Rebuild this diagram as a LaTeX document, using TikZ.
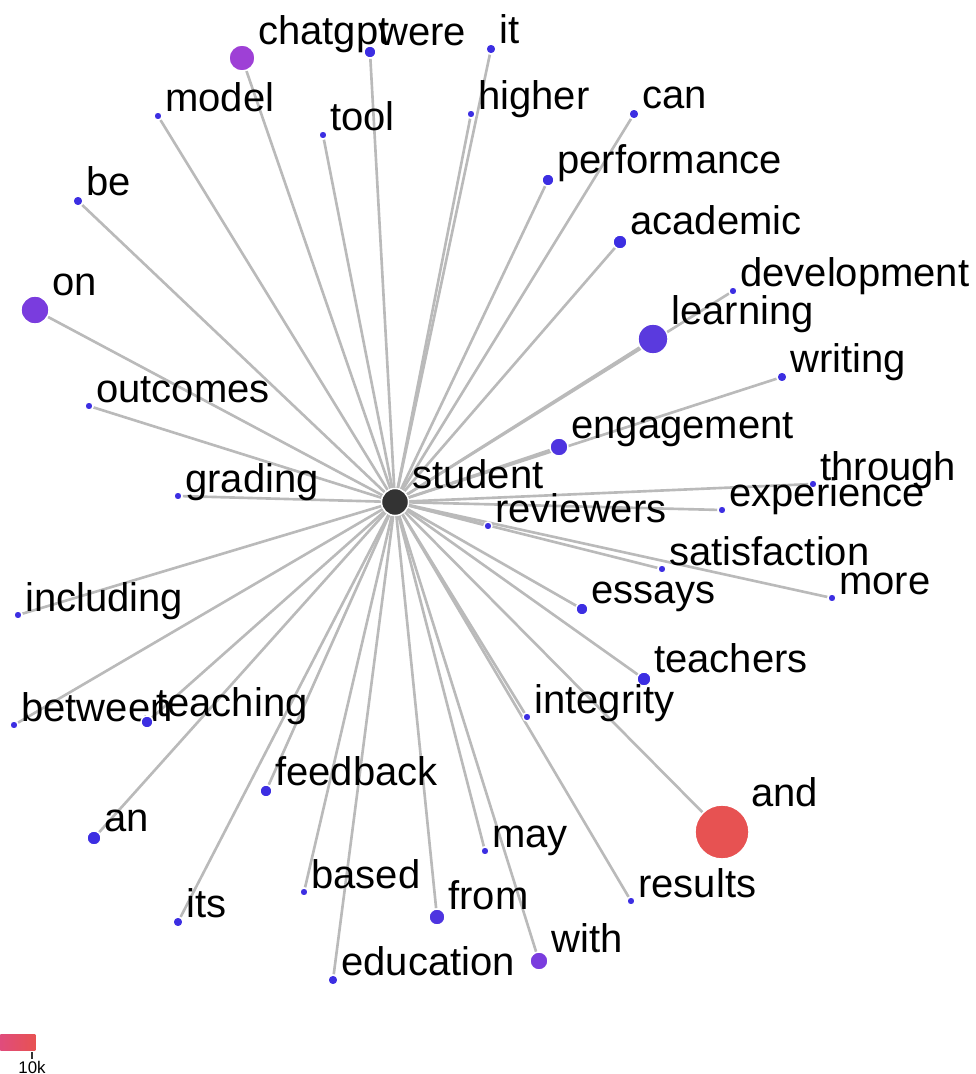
\documentclass[tikz,border=0pt]{standalone}
\usepackage{fontspec}
\setmainfont{Liberation Sans}
\usepackage{tikz}
\usetikzlibrary{positioning}
\pgfdeclarelayer{background}
\pgfsetlayers{background,main}
\definecolor{dotblue}{RGB}{60,46,226}
\definecolor{dotblueb}{RGB}{78,52,224}
\definecolor{dotlearn}{RGB}{90,58,222}
\definecolor{dotviolet}{RGB}{122,60,222}
\definecolor{dotchat}{RGB}{158,64,214}
\definecolor{dotred}{RGB}{231,82,82}
\definecolor{dotpink}{RGB}{224,76,124}
\definecolor{hubgray}{RGB}{51,51,51}
\definecolor{linkgray}{RGB}{186,186,186}
\tikzstyle{word} = [circle, draw=white, line width=0.8pt, inner sep=0pt, fill=dotblue]
\tikzstyle{hub} = [word, fill=hubgray, minimum size=0.54cm]
\tikzstyle{lbl} = [anchor=base west, inner sep=0pt, font=\fontsize{22.76}{27}\selectfont]
\tikzstyle{link} = [draw=linkgray, line width=1.5pt]
\tikzstyle{s4} = [minimum size=0.16cm]
\tikzstyle{s5} = [minimum size=0.2cm]
\tikzstyle{s6} = [minimum size=0.24cm]
\tikzstyle{s7} = [minimum size=0.28cm]
\tikzstyle{s8} = [minimum size=0.32cm]
\tikzstyle{s9} = [minimum size=0.36cm]
\tikzstyle{s13} = [minimum size=0.52cm]
\tikzstyle{s14} = [minimum size=0.56cm]
\tikzstyle{s15} = [minimum size=0.6cm]
\tikzstyle{s27} = [minimum size=1.08cm]

\begin{document}
\begin{tikzpicture}[x=0.02cm, y=-0.02cm]
\useasboundingbox (0,0) rectangle (975,1074);
% centre word
\node (student) [hub] at (395,502) {};
\node (studentT) [lbl] at ([shift={(17,-14)}]student.center) {student};
%-----------------------------------------------
% upper half
\node (chatgpt) [word, s13, fill=dotchat] at (242,58) {};
\node (chatgptT) [lbl] at ([shift={(16,-13)}]chatgpt.center) {chatgpt};
\node (were) [word, s6] at (370,52) {};
\node (wereT) [lbl] at ([shift={(9,-6)}]were.center) {were};
\node (it) [word, s5] at (491,49) {};
\node (itT) [lbl] at ([shift={(8,-5)}]it.center) {it};
\node (model) [word, s4] at (158,116) {};
\node (modelT) [lbl] at ([shift={(7,-4)}]model.center) {model};
\node (tool) [word, s4] at (323,135) {};
\node (toolT) [lbl] at ([shift={(7,-4)}]tool.center) {tool};
\node (higher) [word, s4] at (471,114) {};
\node (higherT) [lbl] at ([shift={(7,-4)}]higher.center) {higher};
\node (can) [word, s5] at (634,114) {};
\node (canT) [lbl] at ([shift={(8,-5)}]can.center) {can};
\node (be) [word, s5] at (78,201) {};
\node (beT) [lbl] at ([shift={(8,-5)}]be.center) {be};
\node (performance) [word, s6] at (548,180) {};
\node (performanceT) [lbl] at ([shift={(9,-6)}]performance.center) {performance};
\node (academic) [word, s7] at (620,242) {};
\node (academicT) [lbl] at ([shift={(10,-7)}]academic.center) {academic};
\node (on) [word, s14, fill=dotviolet] at (35,310) {};
\node (onT) [lbl] at ([shift={(17,-14)}]on.center) {on};
\node (development) [word, s4] at (733,291) {};
\node (developmentT) [lbl] at ([shift={(7,-4)}]development.center) {development};
\node (learning) [word, s15, fill=dotlearn] at (653,339) {};
\node (learningT) [lbl] at ([shift={(18,-15)}]learning.center) {learning};
\node (writing) [word, s5] at (782,377) {};
\node (writingT) [lbl] at ([shift={(8,-5)}]writing.center) {writing};
\node (outcomes) [word, s4] at (89,406) {};
\node (outcomesT) [lbl] at ([shift={(7,-4)}]outcomes.center) {outcomes};
\node (engagement) [word, s9, fill=dotblueb] at (559,447) {};
\node (engagementT) [lbl] at ([shift={(12,-9)}]engagement.center) {engagement};
\node (grading) [word, s4] at (178,496) {};
\node (gradingT) [lbl] at ([shift={(7,-4)}]grading.center) {grading};
\node (through) [word, s4] at (813,484) {};
\node (throughT) [lbl] at ([shift={(7,-4)}]through.center) {through};
\node (experience) [word, s4] at (722,510) {};
\node (experienceT) [lbl] at ([shift={(7,-4)}]experience.center) {experience};
\node (reviewers) [word, s4] at (488,526) {};
\node (reviewersT) [lbl] at ([shift={(7,-4)}]reviewers.center) {reviewers};
%-----------------------------------------------
% lower half
\node (satisfaction) [word, s4] at (662,569) {};
\node (satisfactionT) [lbl] at ([shift={(7,-4)}]satisfaction.center) {satisfaction};
\node (more) [word, s4] at (832,598) {};
\node (moreT) [lbl] at ([shift={(7,-4)}]more.center) {more};
\node (essays) [word, s6] at (582,609) {};
\node (essaysT) [lbl] at ([shift={(9,-6)}]essays.center) {essays};
\node (including) [word, s4] at (18,615) {};
\node (includingT) [lbl] at ([shift={(7,-4)}]including.center) {including};
\node (teachers) [word, s7] at (644,679) {};
\node (teachersT) [lbl] at ([shift={(10,-7)}]teachers.center) {teachers};
\node (between) [word, s4] at (14,725) {};
\node (betweenT) [lbl] at ([shift={(7,-4)}]between.center) {between};
\node (teaching) [word, s6] at (147,722) {};
\node (teachingT) [lbl] at ([shift={(9,-6)}]teaching.center) {teaching};
\node (integrity) [word, s4] at (527,717) {};
\node (integrityT) [lbl] at ([shift={(7,-4)}]integrity.center) {integrity};
\node (feedback) [word, s6] at (266,791) {};
\node (feedbackT) [lbl] at ([shift={(9,-6)}]feedback.center) {feedback};
\node (and) [word, s27, fill=dotred] at (722,832) {};
\node (andT) [lbl] at ([shift={(29,-26)}]and.center) {and};
\node (an) [word, s7] at (94,838) {};
\node (anT) [lbl] at ([shift={(10,-7)}]an.center) {an};
\node (may) [word, s4] at (485,851) {};
\node (mayT) [lbl] at ([shift={(7,-4)}]may.center) {may};
\node (based) [word, s4] at (304,892) {};
\node (basedT) [lbl] at ([shift={(7,-4)}]based.center) {based};
\node (results) [word, s4] at (631,901) {};
\node (resultsT) [lbl] at ([shift={(7,-4)}]results.center) {results};
\node (its) [word, s5] at (178,922) {};
\node (itsT) [lbl] at ([shift={(8,-5)}]its.center) {its};
\node (from) [word, s8, fill=dotblueb] at (437,917) {};
\node (fromT) [lbl] at ([shift={(11,-8)}]from.center) {from};
\node (with) [word, s9, fill=dotviolet] at (539,961) {};
\node (withT) [lbl] at ([shift={(12,-9)}]with.center) {with};
\node (education) [word, s5] at (333,980) {};
\node (educationT) [lbl] at ([shift={(8,-5)}]education.center) {education};
%-----------------------------------------------
% links from the centre word
\begin{pgfonlayer}{background}
\draw [link] (student) -- (chatgpt);
\draw [link] (student) -- (were);
\draw [link] (student) -- (it);
\draw [link] (student) -- (model);
\draw [link] (student) -- (tool);
\draw [link] (student) -- (higher);
\draw [link] (student) -- (can);
\draw [link] (student) -- (be);
\draw [link] (student) -- (performance);
\draw [link] (student) -- (academic);
\draw [link] (student) -- (on);
\draw [link] (student) -- (development);
\draw [link] (student) -- (learning);
\draw [link] (student) -- (writing);
\draw [link] (student) -- (outcomes);
\draw [link] (student) -- (engagement);
\draw [link] (student) -- (grading);
\draw [link] (student) -- (through);
\draw [link] (student) -- (experience);
\draw [link] (student) -- (reviewers);
\draw [link] (student) -- (satisfaction);
\draw [link] (student) -- (more);
\draw [link] (student) -- (essays);
\draw [link] (student) -- (including);
\draw [link] (student) -- (teachers);
\draw [link] (student) -- (between);
\draw [link] (student) -- (teaching);
\draw [link] (student) -- (integrity);
\draw [link] (student) -- (feedback);
\draw [link] (student) -- (and);
\draw [link] (student) -- (an);
\draw [link] (student) -- (may);
\draw [link] (student) -- (based);
\draw [link] (student) -- (results);
\draw [link] (student) -- (its);
\draw [link] (student) -- (from);
\draw [link] (student) -- (with);
\draw [link] (student) -- (education);
\end{pgfonlayer}
%-----------------------------------------------
% colour scale
\node (scalebar) [rectangle, inner sep=0pt, anchor=north west, minimum width=0.7cm, minimum height=0.32cm, left color=dotpink, right color=dotred] at (0,1034) {};
\coordinate (tickTop) at (32,1052);
\coordinate (tickBot) at (32,1059);
\draw [hubgray, line width=0.6pt] (tickTop) -- (tickBot);
\node (scaleT) [anchor=north, inner sep=0pt, font=\fontsize{9.6}{11}\selectfont] at ([yshift=-1]tickBot) {10k};
\end{tikzpicture}
\end{document}
